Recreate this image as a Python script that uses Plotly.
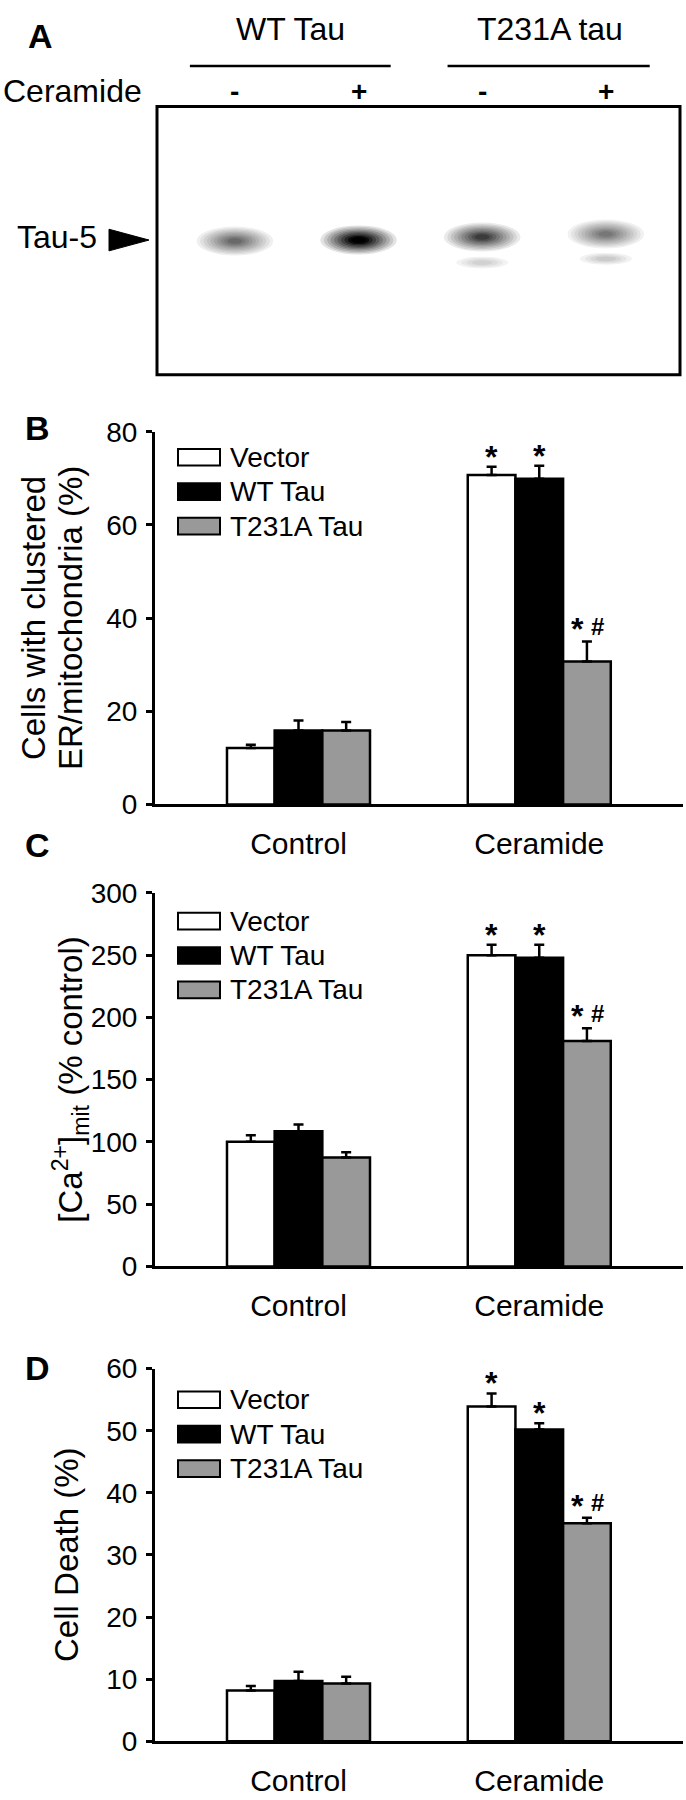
import plotly.graph_objects as go

W, H = 686, 1800
FONT = "Liberation Sans, Arial, Helvetica, sans-serif"

# ---------------- data ----------------
groups = ["Control", "Ceramide"]
series_names = ["Vector", "WT Tau", "T231A Tau"]
series_colors = ["#ffffff", "#000000", "#999999"]

# Panel B: cells with clustered ER/mitochondria (%)
B_vector = [12.1, 70.7]
B_vector_err = [0.7, 1.8]
B_wt = [15.9, 69.9]
B_wt_err = [2.1, 2.8]
B_t231a = [15.9, 30.7]
B_t231a_err = [1.8, 4.3]

# Panel C: [Ca2+]mit (% control)
C_vector = [100.1, 250.0]
C_vector_err = [5.3, 8.4]
C_wt = [108.5, 247.9]
C_wt_err = [5.5, 10.5]
C_t231a = [87.4, 181.1]
C_t231a_err = [4.2, 10.2]

# Panel D: cell death (%)
D_vector = [8.2, 53.9]
D_vector_err = [0.7, 2.1]
D_wt = [9.7, 50.2]
D_wt_err = [1.5, 1.0]
D_t231a = [9.3, 35.1]
D_t231a_err = [1.1, 0.9]

# significance marks (per group)
sig_vector = ["", "*"]
sig_wt = ["", "*"]
sig_t231a = ["", "*#"]

B_ticks = [0, 20, 40, 60, 80]
C_ticks = [0, 50, 100, 150, 200, 250, 300]
D_ticks = [0, 10, 20, 30, 40, 50, 60]

B_title = ["Cells with clustered", "ER/mitochondria (%)"]
C_title = ["[Ca<sup>2+</sup>]<sub>mit</sub> (% control)"]
D_title = ["Cell Death (%)"]

# Panel A: western blot
blot_groups = ["WT Tau", "T231A tau"]
lane_ceramide = ["-", "+", "-", "+"]
band_strength = [0.55, 1.0, 0.72, 0.5]
lower_band_strength = [0.0, 0.0, 0.28, 0.32]

# ---------------- helpers ----------------
def fx(px):
    return px / W


def fy(py):
    return 1 - py / H


BAR_GAP = 0.406
BW = (1 - BAR_GAP) / 3
X_DOMAIN = [fx(155), fx(683)]
X_RANGE = [-0.596, 1.597]

fig = go.Figure()
annotations = []
shapes = []
layout_axes = {}


def add_text(text, xpx, ypx, size, bold=False, angle=0, xanchor="center"):
    annotations.append(dict(
        text=f"<b>{text}</b>" if bold else text,
        x=fx(xpx), y=fy(ypx), xref="paper", yref="paper",
        xanchor=xanchor, yanchor="middle", showarrow=False,
        textangle=angle, font=dict(size=size, family=FONT, color="black")))


panels = [
    dict(letter="B", top=424.0, bottom=803.3, ticks=B_ticks,
         means=[B_vector, B_wt, B_t231a],
         errs=[B_vector_err, B_wt_err, B_t231a_err],
         title=B_title, title_x=[33, 70], legend_first=450, letter_y=420),
    dict(letter="C", top=893.3, bottom=1273.3, ticks=C_ticks,
         means=[C_vector, C_wt, C_t231a],
         errs=[C_vector_err, C_wt_err, C_t231a_err],
         title=C_title, title_x=[71], legend_first=922, letter_y=845),
    dict(letter="D", top=1377.3, bottom=1756.6, ticks=D_ticks,
         means=[D_vector, D_wt, D_t231a],
         errs=[D_vector_err, D_wt_err, D_t231a_err],
         title=D_title, title_x=[67], legend_first=1409, letter_y=1377),
]
sigs = [sig_vector, sig_wt, sig_t231a]

for k, p in enumerate(panels, start=1):
    sfx = "" if k == 1 else str(k)
    xa, ya = "x" + sfx, "y" + sfx
    for i, (name, color) in enumerate(zip(series_names, series_colors)):
        fig.add_trace(go.Bar(
            x=groups, y=p["means"][i], name=name,
            marker=dict(color=color, line=dict(color="black", width=2.5)),
            error_y=dict(type="data", symmetric=False, array=p["errs"][i],
                         arrayminus=[0] * len(groups), color="black",
                         thickness=2.5, width=5),
            xaxis=xa, yaxis=ya, showlegend=False))
        # significance marks
        for g in range(len(groups)):
            mark = sigs[i][g]
            if not mark:
                continue
            xc = g + (i - 1) * BW
            ytop = p["means"][i][g] + p["errs"][i][g]
            if mark == "*":
                annotations.append(dict(
                    text="<b>*</b>", x=xc, y=ytop, xref=xa, yref=ya,
                    xanchor="center", yanchor="middle", yshift=10,
                    showarrow=False, font=dict(size=32, family=FONT, color="black")))
            else:
                annotations.append(dict(
                    text="<b>*</b>", x=xc, y=ytop, xref=xa, yref=ya,
                    xanchor="center", yanchor="middle", yshift=12, xshift=-9,
                    showarrow=False, font=dict(size=32, family=FONT, color="black")))
                annotations.append(dict(
                    text="<b>#</b>", x=xc, y=ytop, xref=xa, yref=ya,
                    xanchor="center", yanchor="middle", yshift=15, xshift=11,
                    showarrow=False, font=dict(size=24, family=FONT, color="black")))

    layout_axes[f"xaxis{sfx}"] = dict(
        domain=X_DOMAIN, range=X_RANGE, anchor=ya,
        showline=True, linecolor="black", linewidth=3, mirror=False,
        ticks="", showgrid=False, zeroline=False,
        tickfont=dict(size=30, family=FONT, color="black"),
        ticklabelstandoff=11, fixedrange=True)
    layout_axes[f"yaxis{sfx}"] = dict(
        domain=[fy(p["bottom"]), fy(p["top"])],
        range=[p["ticks"][0], p["ticks"][-1]], anchor=xa,
        tickvals=p["ticks"], ticks="outside", ticklen=6, tickwidth=2.5,
        tickcolor="black", showline=True, linecolor="black", linewidth=3,
        showgrid=False, zeroline=False, ticklabelstandoff=3,
        tickfont=dict(size=28, family=FONT, color="black"), fixedrange=True)

    # axis title(s)
    ymid = (p["top"] + p["bottom"]) / 2
    for line, tx in zip(p["title"], p["title_x"]):
        add_text(line, tx, ymid, 33, angle=-90)

    # panel letter
    add_text(p["letter"], 37, p["letter_y"], 34, bold=True)

    # legend
    for i, (name, color) in enumerate(zip(series_names, series_colors)):
        ry = p["legend_first"] + 35 * i
        shapes.append(dict(type="rect", xref="paper", yref="paper",
                           x0=fx(178), x1=fx(220), y0=fy(ry + 8.5), y1=fy(ry - 8.5),
                           fillcolor=color, line=dict(color="black", width=2)))
        add_text(name, 228, ry, 28, xanchor="left")

# ---------------- Panel A (blot) ----------------
layout_axes["xaxis4"] = dict(domain=[fx(157), fx(680)], range=[-0.63, 3.6],
                             anchor="y4", visible=False, fixedrange=True)
layout_axes["yaxis4"] = dict(domain=[fy(366), fy(93)], range=[0, 1],
                             anchor="x4", visible=False, fixedrange=True)

# invisible anchor trace so the blot axes exist
fig.add_trace(go.Scatter(x=[0, 3], y=[0.5, 0.5], mode="markers",
                         marker=dict(size=1, color="rgba(0,0,0,0)"),
                         xaxis="x4", yaxis="y4", showlegend=False, hoverinfo="skip"))

band_y = [0.498, 0.502, 0.513, 0.524]
lower_y = [0.40, 0.40, 0.418, 0.432]
for i, s in enumerate(band_strength):
    for j in range(10):
        sc = 1 - j * 0.09
        g = int(max(0, min(255, 255 - s * (28 + j * 27))))
        shapes.append(dict(type="circle", xref="x4", yref="y4", layer="above",
                           x0=i - 0.31 * sc, x1=i + 0.31 * sc,
                           y0=band_y[i] - 0.054 * sc, y1=band_y[i] + 0.054 * sc,
                           fillcolor=f"rgb({g},{g},{g})", line=dict(width=0)))
for i, s in enumerate(lower_band_strength):
    if s <= 0:
        continue
    for j in range(4):
        sc = 1 - j * 0.2
        g = int(max(0, min(255, 255 - s * (40 + j * 40))))
        shapes.append(dict(type="circle", xref="x4", yref="y4", layer="above",
                           x0=i - 0.21 * sc, x1=i + 0.21 * sc,
                           y0=lower_y[i] - 0.022 * sc, y1=lower_y[i] + 0.022 * sc,
                           fillcolor=f"rgb({g},{g},{g})", line=dict(width=0)))

# blot frame
shapes.append(dict(type="rect", xref="x4 domain", yref="y4 domain",
                   x0=0, x1=1, y0=0, y1=1, layer="above",
                   line=dict(color="black", width=3), fillcolor="rgba(0,0,0,0)"))

# lane labels (ceramide - / +)
for li, lab in enumerate(lane_ceramide):
    annotations.append(dict(text=f"<b>{lab}</b>", x=li, y=fy(78), xref="x4", yref="paper",
                            xanchor="center", yanchor="middle", showarrow=False,
                            font=dict(size=28, family=FONT, color="black")))

# group labels + underlines
for gi, (name, xc, x0, x1) in enumerate(zip(blot_groups, [0.45, 2.55],
                                            [-0.364, 1.72], [1.26, 3.355])):
    annotations.append(dict(text=name, x=xc, y=fy(14), xref="x4", yref="paper",
                            xanchor="center", yanchor="middle", showarrow=False,
                            font=dict(size=32, family=FONT, color="black")))
    shapes.append(dict(type="line", xref="x4", yref="paper",
                       x0=x0, x1=x1, y0=fy(52), y1=fy(52),
                       line=dict(color="black", width=2.5)))

add_text("A", 40, 21, 34, bold=True)
add_text("Ceramide", 72, 77, 32)
add_text("Tau-5", 57, 226, 32)
shapes.append(dict(type="path", xref="paper", yref="paper",
                   path=f"M{fx(109)},{fy(218)} L{fx(149)},{fy(229)} L{fx(109)},{fy(240)} Z",
                   fillcolor="black", line=dict(color="black", width=1)))

fig.update_layout(
    width=W, height=H, margin=dict(l=0, r=0, t=0, b=0),
    paper_bgcolor="white", plot_bgcolor="white",
    barmode="group", bargap=BAR_GAP, bargroupgap=0,
    showlegend=False, font=dict(family=FONT, color="black"),
    annotations=annotations, shapes=shapes, **layout_axes)

fig.write_html("out.html",
               config={"displayModeBar": False},
               post_script="document.body.style.margin='0';document.body.style.padding='0';")
